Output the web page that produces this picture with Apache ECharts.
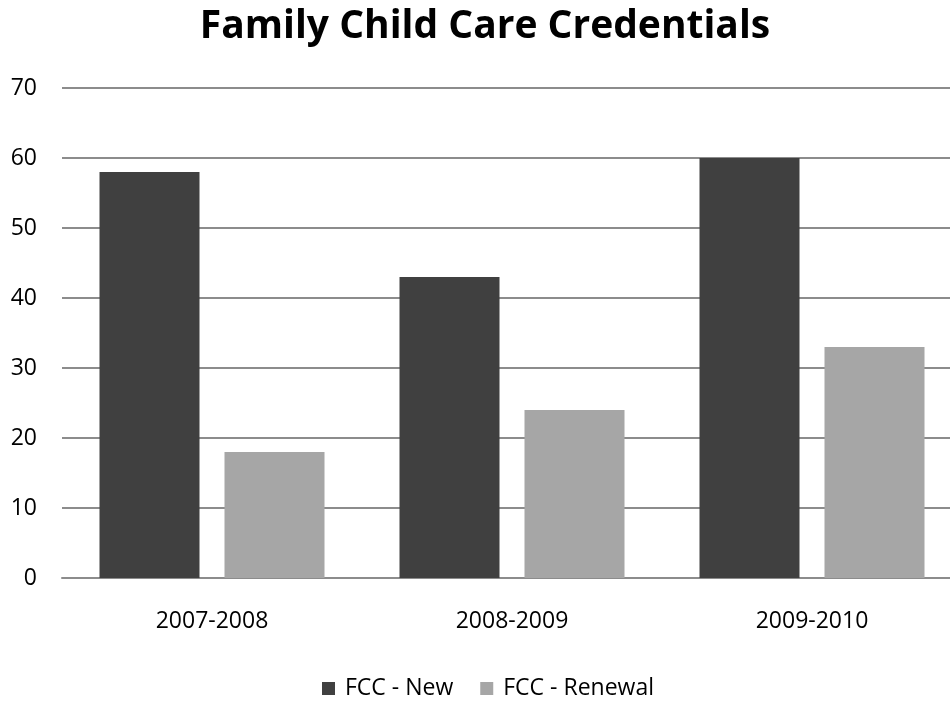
<!DOCTYPE html>
<html>
<head>
<meta charset="utf-8">
<script src="https://cdn.jsdelivr.net/npm/echarts@6/dist/echarts.min.js"></script>
<style>
  html, body { margin: 0; padding: 0; background: #fff; }
  #chart { width: 950px; height: 702px; }
</style>
</head>
<body>
<div id="chart"></div>
<script>
// Credential counts per program year
const years = ['2007-2008', '2008-2009', '2009-2010'];
const fccNew = [58, 43, 60];
const fccRenewal = [18, 24, 33];
const seriesNames = ['FCC - New', 'FCC - Renewal'];

const FONT = '"Open Sans", Lato, sans-serif';

const chart = echarts.init(document.getElementById('chart'));
chart.setOption({
  animation: false,
  backgroundColor: '#ffffff',
  title: {
    text: 'Family Child Care Credentials',
    left: 485,
    top: 7,
    padding: 0,
    textAlign: 'center',
    textStyle: { fontFamily: FONT, fontSize: 39, fontWeight: 'bold', color: '#000' }
  },
  legend: {
    data: seriesNames,
    top: 677,
    left: 322,
    padding: 0,
    itemWidth: 13,
    itemHeight: 13,
    itemGap: 27,
    icon: 'rect',
    textStyle: { fontFamily: FONT, fontSize: 23, color: '#000', padding: [0, 0, 0, 5] }
  },
  // plot area runs slightly past the right edge of the canvas
  grid: { left: 62, right: -12, top: 88, bottom: 124, outerBoundsMode: 'none' },
  xAxis: {
    type: 'category',
    data: years,
    axisTick: { show: false },
    axisLine: { show: true, lineStyle: { color: '#8c8c8c', width: 2 } },
    axisLabel: { fontFamily: FONT, fontSize: 23, color: '#000', margin: 32 }
  },
  yAxis: {
    type: 'value',
    min: 0,
    max: 70,
    interval: 10,
    axisLine: { show: false },
    axisTick: { show: false },
    splitLine: { lineStyle: { color: '#8c8c8c', width: 2 } },
    axisLabel: { fontFamily: FONT, fontSize: 23, color: '#000', margin: 25 }
  },
  series: [
    {
      name: seriesNames[0],
      type: 'bar',
      data: fccNew,
      barWidth: 100,
      barGap: '25%',
      itemStyle: { color: '#404040' }
    },
    {
      name: seriesNames[1],
      type: 'bar',
      data: fccRenewal,
      barWidth: 100,
      itemStyle: { color: '#a6a6a6' }
    }
  ]
});
</script>
</body>
</html>
